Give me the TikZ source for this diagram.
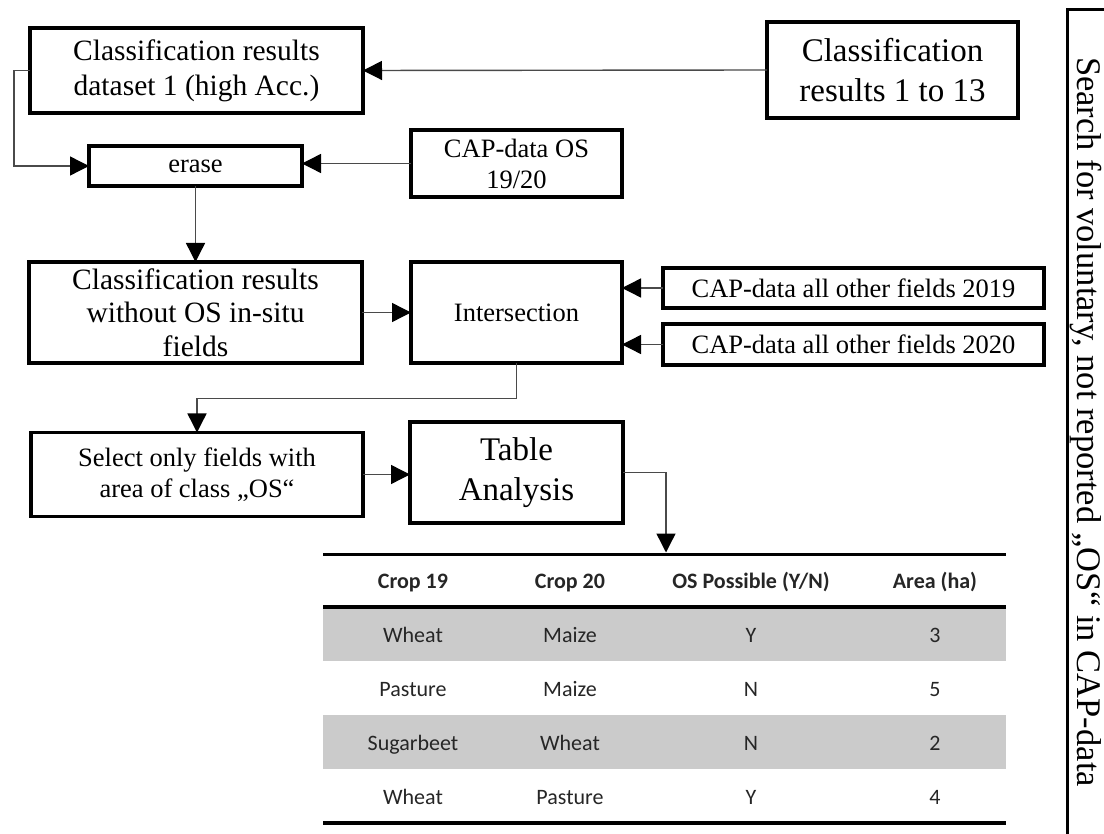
\documentclass[tikz,border=0pt]{standalone}
\usepackage{fontspec}
\setmainfont{Liberation Serif}
\newfontfamily\tabfont{Carlito}
\usetikzlibrary{arrows.meta}
\definecolor{rowgray}{HTML}{CBCBCB}
\definecolor{linkgray}{HTML}{4A4A4A}

\begin{document}
\begin{tikzpicture}[x=1pt,y=-1pt,
  box/.style={draw=black, line width=3.8pt, fill=white, align=center,
              inner sep=0pt, outer sep=0pt},
  fbig/.style={font=\fontsize{29.5}{35}\selectfont},
  fhuge/.style={font=\fontsize{33}{40}\selectfont},
  fsmall/.style={font=\fontsize{26.5}{31}\selectfont},
  conn/.style={draw=linkgray, line width=1.4pt,
               -{Triangle[length=19pt,width=19pt,color=black,fill=black]}},
  cell/.style={font=\tabfont\fontsize{22}{26}\selectfont, text=black!85,
               inner sep=0pt, text height=15pt, text depth=1.5pt},
  headcell/.style={cell, font=\tabfont\bfseries\fontsize{22}{26}\selectfont}
]
\useasboundingbox (0,0) rectangle (1104,834);
\fill[white] (0,0) rectangle (1104,834);
\clip (0,0) rectangle (1104,834);

% process boxes
\node[box, fbig, minimum width=333pt, minimum height=85pt] (acc) at (196.5,70.5)
  {Classification results\\dataset 1 (high Acc.)};
\node[box, fhuge, minimum width=251pt, minimum height=96pt] (all) at (892.5,70)
  {Classification\\results 1 to 13};
\node[box, fsmall, minimum width=213pt, minimum height=40pt] (erase) at (195.5,166)
  {erase};
\node[box, fsmall, minimum width=211pt, minimum height=67pt] (capos) at (516.5,163.5)
  {CAP-data OS\\19/20};
\node[box, font=\fontsize{29.5}{33.5}\selectfont, minimum width=333pt, minimum height=101pt]
  (noos) at (195.5,312.5) {Classification results\\without OS in-situ\\fields};
\node[box, fsmall, minimum width=211pt, minimum height=101pt] (inter) at (516.5,312.5)
  {Intersection};
\node[box, fsmall, minimum width=381pt, minimum height=40pt] (cap19) at (853.5,288)
  {CAP-data all other fields 2019};
\node[box, fsmall, minimum width=381pt, minimum height=41pt] (cap20) at (853.5,344.5)
  {CAP-data all other fields 2020};
\node[box, fsmall, minimum width=332pt, minimum height=84pt] (select) at (197,474.5)
  {Select only fields with\\area of class „OS“};
\node[box, fhuge, minimum width=213pt, minimum height=101pt] (ta) at (516.5,472.5)
  {Table\\Analysis};

% side frame with vertical label
\draw[line width=3pt] (1067,10) rectangle (1120,850);
\node[rotate=-90, font=\fontsize{34.5}{40}\selectfont, inner sep=0pt] (side) at (1086,422)
  {Search for voluntary, not reported „OS“ in CAP-data};

% result table
\fill[rowgray] (323,607) rectangle (1006,661);
\fill[rowgray] (323,715) rectangle (1006,769);
\draw[line width=3pt] (323,554) -- (1006,554);
\draw[line width=4pt] (323,607) -- (1006,607);
\draw[line width=4pt] (323,823) -- (1006,823);
\coordinate (tabtop) at (666,552.5);

\foreach \txt [count=\c] in {Crop 19, Crop 20, OS Possible (Y/N), Area (ha)}
  \pgfmathsetmacro{\cx}{{413,570,751,935}[\c-1]}
  \node[headcell] (h\c) at (\cx,582) {\txt};

\foreach \a/\b/\o/\n [count=\r] in {Wheat/Maize/Y/3, Pasture/Maize/N/5,
                                     Sugarbeet/Wheat/N/2, Wheat/Pasture/Y/4} {
  \pgfmathsetmacro{\ry}{582+54*\r}
  \node[cell] (r\r a) at (413,\ry) {\a};
  \node[cell] (r\r b) at (570,\ry) {\b};
  \node[cell] (r\r c) at (751,\ry) {\o};
  \node[cell] (r\r d) at (935,\ry) {\n};
}

% connectors
\draw[conn] (all.west) -- (acc.east);
\draw[conn] (acc.west) -- ++(-16,0) |- (erase.west);
\draw[conn] (capos.west) -- (capos.west -| erase.east);
\draw[conn] (erase.south) -- (noos.north);
\draw[conn] (noos.east) -- (inter.west);
\draw[conn] (cap19.west) -- (cap19.west -| inter.east);
\draw[conn] (cap20.west) -- (cap20.west -| inter.east);
\draw[conn] (inter.south) -- ++(0,35.5) -| (select.north);
\draw[conn] (select.east) -- (select.east -| ta.west);
\draw[conn] (ta.east) -| (tabtop);
\end{tikzpicture}
\end{document}
